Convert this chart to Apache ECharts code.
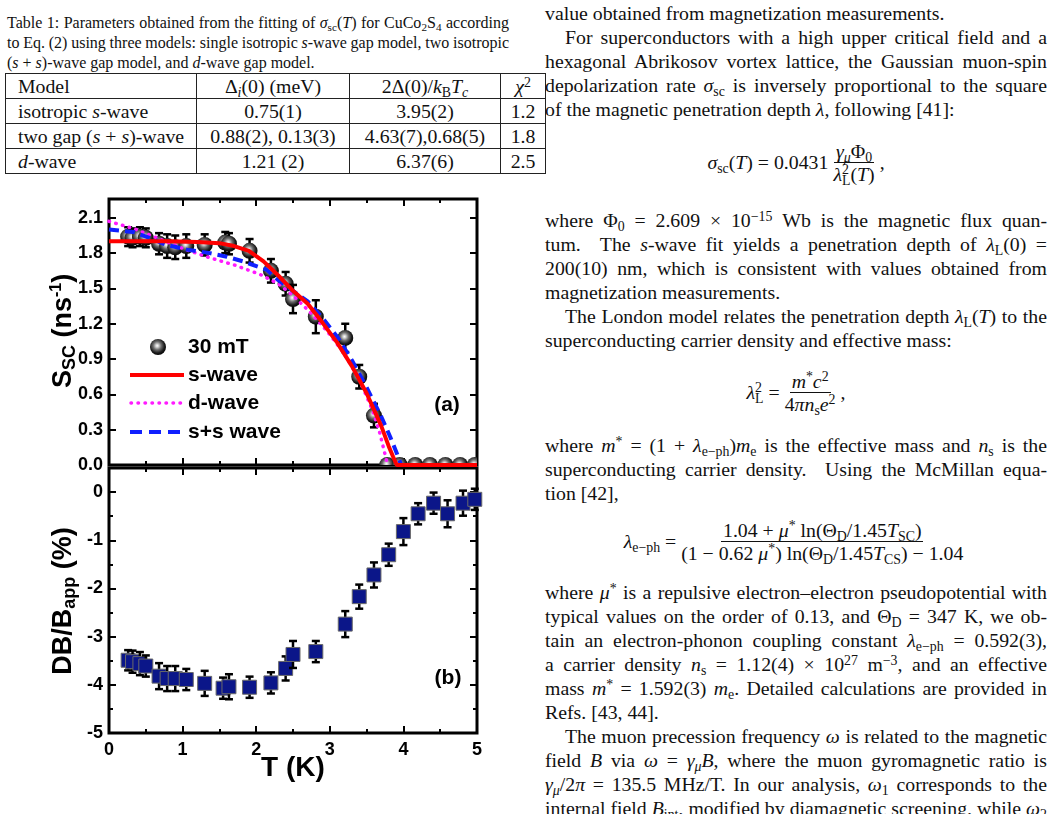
<!DOCTYPE html>
<html>
<head>
<meta charset="utf-8">
<script src="https://cdn.jsdelivr.net/npm/echarts@6/dist/echarts.min.js"></script>
<style>
html, body { margin: 0; padding: 0; background: #fff; }
body { width: 1054px; height: 814px; overflow: hidden; position: relative; font-family: "Liberation Serif", "Times New Roman", serif; color: #111; }
.ln { position: absolute; height: 24px; line-height: 24px; white-space: nowrap; font-size: 19.8px; }
.r { left: 545px; width: 502px; }
.ind { left: 565px; width: 482px; }
.cap { position: absolute; left: 7px; width: 502px; height: 20px; line-height: 20px; white-space: nowrap; font-size: 16px; }
sub, sup { font-size: 0.7em; line-height: 0; position: relative; vertical-align: baseline; }
sub { top: 0.3em; }
sup { top: -0.45em; }
.eq { position: absolute; left: 545px; width: 502px; height: 60px; display: flex; justify-content: center; align-items: center; font-size: 19.8px; white-space: nowrap; }
.fr { display: inline-flex; flex-direction: column; align-items: center; margin: 0 3px; }
.fr span { line-height: 22px; padding: 0 2px; }
.fr .num { border-bottom: 1px solid #111; }
table { position: absolute; left: 5px; top: 73px; border-collapse: collapse; font-size: 19.8px; }
td { border: 1px solid #222; height: 24px; padding: 0; line-height: 24px; text-align: center; }
td.m { text-align: left; padding-left: 12px; }
#chart { position: absolute; left: 0; top: 190px; width: 540px; height: 624px; }
</style>
</head>
<body>

<div class="cap j" style="top:13px"><span>Table 1: Parameters obtained from the fitting of <i>σ</i><sub>sc</sub>(<i>T</i>) for CuCo<sub>2</sub>S<sub>4</sub> according</span></div>
<div class="cap j" style="top:33px"><span>to Eq. (2) using three models: single isotropic <i>s</i>-wave gap model, two isotropic</span></div>
<div class="cap" style="top:53px"><span>(<i>s</i> + <i>s</i>)-wave gap model, and <i>d</i>-wave gap model.</span></div>

<table>
  <tr><td class="m" style="width:178px">Model</td><td style="width:152px">Δ<sub><i>i</i></sub>(0) (meV)</td><td style="width:150px">2Δ(0)/<i>k</i><sub>B</sub><i>T</i><sub><i>c</i></sub></td><td style="width:44px"><i>χ</i><sup>2</sup></td></tr>
  <tr><td class="m">isotropic <i>s</i>-wave</td><td>0.75(1)</td><td>3.95(2)</td><td>1.2</td></tr>
  <tr><td class="m">two gap (<i>s</i> + <i>s</i>)-wave</td><td>0.88(2), 0.13(3)</td><td>4.63(7),0.68(5)</td><td>1.8</td></tr>
  <tr><td class="m"><i>d</i>-wave</td><td>1.21 (2)</td><td>6.37(6)</td><td>2.5</td></tr>
</table>

<div class="ln r" style="top:1px"><span>value obtained from magnetization measurements.</span></div>
<div class="ln ind j" style="top:25px"><span>For superconductors with a high upper critical field and a</span></div>
<div class="ln r j" style="top:49px"><span>hexagonal Abrikosov vortex lattice, the Gaussian muon-spin</span></div>
<div class="ln r j" style="top:73px"><span>depolarization rate <i>σ</i><sub>sc</sub> is inversely proportional to the square</span></div>
<div class="ln r" style="top:97px"><span>of the magnetic penetration depth <i>λ</i>, following [41]:</span></div>

<div class="eq" style="top:132px"><span><i>σ</i><sub>sc</sub>(<i>T</i>) = 0.0431</span><span class="fr"><span class="num"><i>γ</i><sub><i>μ</i></sub>Φ<sub>0</sub></span><span><i>λ</i><sup>2</sup><sub style="margin-left:-0.5em">L</sub>(<i>T</i>)</span></span><span>,</span></div>

<div class="ln r j" style="top:208px"><span>where Φ<sub>0</sub> = 2.609 × 10<sup>−15</sup> Wb is the magnetic flux quan-</span></div>
<div class="ln r j" style="top:232px"><span>tum. &nbsp;The <i>s</i>-wave fit yields a penetration depth of <i>λ</i><sub>L</sub>(0) =</span></div>
<div class="ln r j" style="top:256px"><span>200(10) nm, which is consistent with values obtained from</span></div>
<div class="ln r" style="top:280px"><span>magnetization measurements.</span></div>
<div class="ln ind j" style="top:304px"><span>The London model relates the penetration depth <i>λ</i><sub>L</sub>(<i>T</i>) to the</span></div>
<div class="ln r" style="top:328px"><span>superconducting carrier density and effective mass:</span></div>

<div class="eq" style="top:362px"><span><i>λ</i><sup>2</sup><sub style="margin-left:-0.5em">L</sub> = </span><span class="fr"><span class="num"><i>m</i><sup>*</sup><i>c</i><sup>2</sup></span><span>4<i>πn</i><sub>s</sub><i>e</i><sup>2</sup></span></span><span>,</span></div>

<div class="ln r j" style="top:433px"><span>where <i>m</i><sup>*</sup> = (1 + <i>λ</i><sub>e−ph</sub>)<i>m</i><sub>e</sub> is the effective mass and <i>n</i><sub>s</sub> is the</span></div>
<div class="ln r j" style="top:457px"><span>superconducting carrier density. &nbsp;Using the McMillan equa-</span></div>
<div class="ln r" style="top:481px"><span>tion [42],</span></div>

<div class="eq" style="top:511px"><span><i>λ</i><sub>e−ph</sub> = </span><span class="fr"><span class="num">1.04 + <i>μ</i><sup>*</sup> ln(Θ<sub>D</sub>/1.45<i>T</i><sub>SC</sub>)</span><span>(1 − 0.62 <i>μ</i><sup>*</sup>) ln(Θ<sub>D</sub>/1.45<i>T</i><sub>CS</sub>) − 1.04</span></span></div>

<div class="ln r j" style="top:580px"><span>where <i>μ</i><sup>*</sup> is a repulsive electron–electron pseudopotential with</span></div>
<div class="ln r j" style="top:604px"><span>typical values on the order of 0.13, and Θ<sub>D</sub> = 347 K, we ob-</span></div>
<div class="ln r j" style="top:628px"><span>tain an electron-phonon coupling constant <i>λ</i><sub>e−ph</sub> = 0.592(3),</span></div>
<div class="ln r j" style="top:652px"><span>a carrier density <i>n</i><sub>s</sub> = 1.12(4) × 10<sup>27</sup> m<sup>−3</sup>, and an effective</span></div>
<div class="ln r j" style="top:676px"><span>mass <i>m</i><sup>*</sup> = 1.592(3) <i>m</i><sub>e</sub>. Detailed calculations are provided in</span></div>
<div class="ln r" style="top:700px"><span>Refs. [43, 44].</span></div>
<div class="ln ind j" style="top:724px"><span>The muon precession frequency <i>ω</i> is related to the magnetic</span></div>
<div class="ln r j" style="top:748px"><span>field <i>B</i> via <i>ω</i> = <i>γ</i><sub><i>μ</i></sub><i>B</i>, where the muon gyromagnetic ratio is</span></div>
<div class="ln r j" style="top:772px"><span><i>γ</i><sub><i>μ</i></sub>/2<i>π</i> = 135.5 MHz/T. In our analysis, <i>ω</i><sub>1</sub> corresponds to the</span></div>
<div class="ln r j" style="top:796px"><span>internal field <i>B</i><sub>int</sub>, modified by diamagnetic screening, while <i>ω</i><sub>2</sub></span></div>

<div id="chart"></div>

<script>
// justify each line to its box width by spreading the word spaces
document.querySelectorAll('.j').forEach(function (el) {
    var span = el.firstElementChild;
    var target = el.clientWidth;
    var natural = span.getBoundingClientRect().width;
    var gaps = (span.textContent.match(/[ \u00a0]/g) || []).length;
    if (gaps > 0) {
        span.style.wordSpacing = ((target - natural) / gaps) + 'px';
    }
});

// (a) sigma_sc at 30 mT
var tempA = [0.26, 0.32, 0.42, 0.50, 0.68, 0.79, 0.90, 1.05, 1.30, 1.58, 1.63, 1.91, 2.20, 2.40, 2.50, 2.81, 3.21, 3.40, 3.60, 3.78, 3.95, 4.16, 4.36, 4.57, 4.77, 4.97];
var sigmaSC = [1.94, 1.93, 1.94, 1.93, 1.88, 1.86, 1.85, 1.86, 1.87, 1.89, 1.88, 1.82, 1.65, 1.54, 1.41, 1.26, 1.08, 0.75, 0.42, 0.0, 0.0, 0.0, 0.0, 0.0, 0.0, 0.0];
var sigmaErr = [0.08, 0.08, 0.08, 0.08, 0.09, 0.10, 0.10, 0.10, 0.09, 0.09, 0.09, 0.10, 0.10, 0.10, 0.12, 0.14, 0.12, 0.10, 0.10, 0, 0, 0, 0, 0, 0, 0];

// fit curves
var sWaveT = [0, 0.4, 0.8, 1.2, 1.5, 1.7, 1.9, 2.1, 2.3, 2.5, 2.7, 2.9, 3.1, 3.3, 3.5, 3.6, 3.7, 3.8, 3.86, 3.91, 4.5, 5.0];
var sWave = [1.90, 1.90, 1.90, 1.895, 1.885, 1.86, 1.82, 1.73, 1.61, 1.48, 1.37, 1.21, 1.04, 0.84, 0.61, 0.47, 0.33, 0.16, 0.07, 0, 0, 0];
var dWaveT = [0, 0.33, 0.65, 1.0, 1.37, 1.7, 2.05, 2.3, 2.5, 2.73, 2.96, 3.18, 3.4, 3.59, 3.68, 3.77, 3.79];
var dWave = [2.07, 2.01, 1.93, 1.84, 1.76, 1.70, 1.62, 1.54, 1.44, 1.30, 1.14, 0.96, 0.73, 0.45, 0.27, 0.04, 0];
var ssWaveT = [0, 0.33, 0.55, 0.78, 1.06, 1.37, 1.6, 1.82, 2.14, 2.3, 2.5, 2.7, 2.9, 3.1, 3.3, 3.5, 3.7, 3.82, 3.91, 3.97, 5.0];
var ssWave = [2.00, 1.98, 1.93, 1.87, 1.83, 1.80, 1.77, 1.73, 1.66, 1.57, 1.48, 1.39, 1.25, 1.09, 0.89, 0.66, 0.41, 0.24, 0.10, 0, 0];

// (b) field shift
var tempB = [0.26, 0.32, 0.42, 0.50, 0.68, 0.79, 0.90, 1.05, 1.30, 1.55, 1.63, 1.91, 2.20, 2.40, 2.50, 2.81, 3.21, 3.40, 3.60, 3.80, 4.00, 4.20, 4.41, 4.60, 4.81, 4.97];
var shiftB = [-3.49, -3.52, -3.56, -3.61, -3.82, -3.87, -3.87, -3.89, -3.97, -4.07, -4.04, -4.05, -3.96, -3.66, -3.37, -3.31, -2.74, -2.17, -1.72, -1.30, -0.82, -0.45, -0.23, -0.45, -0.23, -0.15];
var shiftErr = [0.21, 0.23, 0.24, 0.22, 0.27, 0.26, 0.26, 0.22, 0.26, 0.22, 0.26, 0.22, 0.22, 0.25, 0.28, 0.22, 0.27, 0.25, 0.26, 0.23, 0.28, 0.22, 0.22, 0.28, 0.26, 0.22];

var xTicks = [0, 1, 2, 3, 4, 5];

function zip(a, b, c) {
    return a.map(function (v, i) { return c ? [v, b[i], c[i]] : [v, b[i]]; });
}

var sphereFill = new echarts.graphic.RadialGradient(0.45, 0.42, 0.6, [
    { offset: 0, color: '#ffffff' },
    { offset: 0.14, color: '#d8d8d8' },
    { offset: 0.42, color: '#6e6e6e' },
    { offset: 0.75, color: '#1c1c1c' },
    { offset: 1, color: '#000000' }
]);

function errorBars(p, hi, lo, cap) {
    var st = { stroke: '#000', lineWidth: 2.5 };
    return [
        { type: 'line', shape: { x1: p[0], y1: hi[1], x2: p[0], y2: lo[1] }, style: st },
        { type: 'line', shape: { x1: p[0] - cap, y1: hi[1], x2: p[0] + cap, y2: hi[1] }, style: st },
        { type: 'line', shape: { x1: p[0] - cap, y1: lo[1], x2: p[0] + cap, y2: lo[1] }, style: st }
    ];
}

function renderSphere(params, api) {
    var t = api.value(0), v = api.value(1), e = api.value(2);
    var p = api.coord([t, v]);
    var kids = e > 0 ? errorBars(p, api.coord([t, v + e]), api.coord([t, v - e]), 4) : [];
    kids.push({ type: 'circle', shape: { cx: p[0], cy: p[1], r: 8 }, style: { fill: sphereFill } });
    return { type: 'group', children: kids };
}

function renderSquare(params, api) {
    var t = api.value(0), v = api.value(1), e = api.value(2);
    var p = api.coord([t, v]);
    var kids = errorBars(p, api.coord([t, v + e]), api.coord([t, v - e]), 4);
    kids.push({ type: 'rect', shape: { x: p[0] - 7, y: p[1] - 7, width: 14, height: 14 }, style: { fill: '#0b1689', stroke: '#6a6a6a', lineWidth: 1 } });
    return { type: 'group', children: kids };
}

var labelFont = { fontFamily: 'Liberation Sans', fontWeight: 'bold', fontSize: 18, color: '#000' };

function xAxisOf(grid, pos, labels) {
    return {
        type: 'value', gridIndex: grid, position: pos, min: xTicks[0], max: xTicks[xTicks.length - 1], interval: 1,
        axisLine: { show: false, onZero: false },
        axisTick: { inside: true, length: 7, lineStyle: { color: '#000', width: 2 } },
        minorTick: { show: true, splitNumber: 2, length: 4, lineStyle: { color: '#000', width: 2 } },
        splitLine: { show: false },
        axisLabel: Object.assign({ show: labels, margin: 8 }, labelFont)
    };
}

function yAxisOf(grid, pos, labels, min, max, interval, minor, fmt) {
    return {
        type: 'value', gridIndex: grid, position: pos, min: min, max: max, interval: interval,
        axisLine: { show: false, onZero: false },
        axisTick: { inside: true, length: 7, lineStyle: { color: '#000', width: 2 } },
        minorTick: { show: minor, splitNumber: 2, length: 4, lineStyle: { color: '#000', width: 2 } },
        splitLine: { show: false },
        axisLabel: Object.assign({ show: labels, margin: 6, showMaxLabel: false, formatter: fmt }, labelFont)
    };
}

var chart = echarts.init(document.getElementById('chart'), null, { renderer: 'canvas' });

var titleFont = 'Liberation Sans';

var option = {
    animation: false,
    grid: [
        { left: 109, top: 9, width: 368, height: 266, show: true, borderColor: '#000', borderWidth: 3 },
        { left: 109, top: 278, width: 368, height: 265, show: true, borderColor: '#000', borderWidth: 3 }
    ],
    xAxis: [
        xAxisOf(0, 'bottom', false),
        xAxisOf(0, 'top', false),
        xAxisOf(1, 'bottom', true),
        xAxisOf(1, 'top', false)
    ],
    yAxis: [
        yAxisOf(0, 'left', true, 0, 2.26, 0.3, false, function (v) { return v.toFixed(1); }),
        yAxisOf(0, 'right', false, 0, 2.26, 0.3, false),
        yAxisOf(1, 'left', true, -5, 0.5, 1, true, function (v) { return String(v); }),
        yAxisOf(1, 'right', false, -5, 0.5, 1, true)
    ],
    series: [
        {
            name: '30 mT', type: 'custom', xAxisIndex: 0, yAxisIndex: 0, clip: true, z: 2,
            renderItem: renderSphere, data: zip(tempA, sigmaSC, sigmaErr)
        },
        {
            name: 'd-wave', type: 'line', xAxisIndex: 0, yAxisIndex: 0, z: 3, symbol: 'none',
            lineStyle: { color: '#ff1aff', width: 3.5, type: [0.5, 6.5], cap: 'round' },
            data: zip(dWaveT, dWave)
        },
        {
            name: 's+s wave', type: 'line', xAxisIndex: 0, yAxisIndex: 0, z: 4, symbol: 'none',
            lineStyle: { color: '#1020ff', width: 4, type: [10, 6] },
            data: zip(ssWaveT, ssWave)
        },
        {
            name: 's-wave', type: 'line', xAxisIndex: 0, yAxisIndex: 0, z: 5, symbol: 'none',
            lineStyle: { color: '#ff0000', width: 4 },
            data: zip(sWaveT, sWave)
        },
        {
            name: 'shift', type: 'custom', xAxisIndex: 2, yAxisIndex: 2, clip: false, z: 2,
            renderItem: renderSquare, data: zip(tempB, shiftB, shiftErr)
        }
    ],
    graphic: [
        // axis titles
        {
            type: 'text', x: 293, y: 578, z: 10,
            style: { text: 'T (K)', font: 'bold 28px ' + titleFont, fill: '#000', textAlign: 'center', textVerticalAlign: 'middle' }
        },
        {
            type: 'text', x: 64, y: 141, rotation: Math.PI / 2, z: 10,
            style: {
                text: '{b|S}{s|SC}{b| (ns}{p|-1}{b|)}', textAlign: 'center', textVerticalAlign: 'middle', fill: '#000',
                rich: {
                    b: { fontFamily: titleFont, fontWeight: 'bold', fontSize: 27, lineHeight: 30 },
                    s: { fontFamily: titleFont, fontWeight: 'bold', fontSize: 18, lineHeight: 8, verticalAlign: 'bottom' },
                    p: { fontFamily: titleFont, fontWeight: 'bold', fontSize: 16, lineHeight: 8, verticalAlign: 'top' }
                }
            }
        },
        {
            type: 'text', x: 64, y: 411, rotation: Math.PI / 2, z: 10,
            style: {
                text: '{b|DB/B}{s|app}{b| (%)}', textAlign: 'center', textVerticalAlign: 'middle', fill: '#000',
                rich: {
                    b: { fontFamily: titleFont, fontWeight: 'bold', fontSize: 27, lineHeight: 30 },
                    s: { fontFamily: titleFont, fontWeight: 'bold', fontSize: 18, lineHeight: 8, verticalAlign: 'bottom' }
                }
            }
        },
        // panel tags
        {
            type: 'text', x: 447, y: 215, z: 10,
            style: { text: '(a)', font: 'bold 21px ' + titleFont, fill: '#000', textAlign: 'center', textVerticalAlign: 'middle' }
        },
        {
            type: 'text', x: 448, y: 488, z: 10,
            style: { text: '(b)', font: 'bold 21px ' + titleFont, fill: '#000', textAlign: 'center', textVerticalAlign: 'middle' }
        },
        // legend
        { type: 'circle', z: 10, shape: { cx: 158, cy: 157, r: 8 }, style: { fill: sphereFill } },
        { type: 'text', z: 10, x: 188, y: 157, style: { text: '30 mT', font: 'bold 21px ' + titleFont, fill: '#000', textVerticalAlign: 'middle' } },
        { type: 'line', z: 10, shape: { x1: 130, y1: 185, x2: 184, y2: 185 }, style: { stroke: '#ff0000', lineWidth: 4 } },
        { type: 'text', z: 10, x: 188, y: 185, style: { text: 's-wave', font: 'bold 21px ' + titleFont, fill: '#000', textVerticalAlign: 'middle' } },
        { type: 'line', z: 10, shape: { x1: 131, y1: 213, x2: 184, y2: 213 }, style: { stroke: '#ff1aff', lineWidth: 3.5, lineDash: [0.5, 6.5], lineCap: 'round' } },
        { type: 'text', z: 10, x: 188, y: 213, style: { text: 'd-wave', font: 'bold 21px ' + titleFont, fill: '#000', textVerticalAlign: 'middle' } },
        { type: 'line', z: 10, shape: { x1: 130, y1: 242, x2: 184, y2: 242 }, style: { stroke: '#1020ff', lineWidth: 4, lineDash: [12, 7] } },
        { type: 'text', z: 10, x: 188, y: 242, style: { text: 's+s wave', font: 'bold 21px ' + titleFont, fill: '#000', textVerticalAlign: 'middle' } }
    ]
};

chart.setOption(option);
</script>
</body>
</html>
